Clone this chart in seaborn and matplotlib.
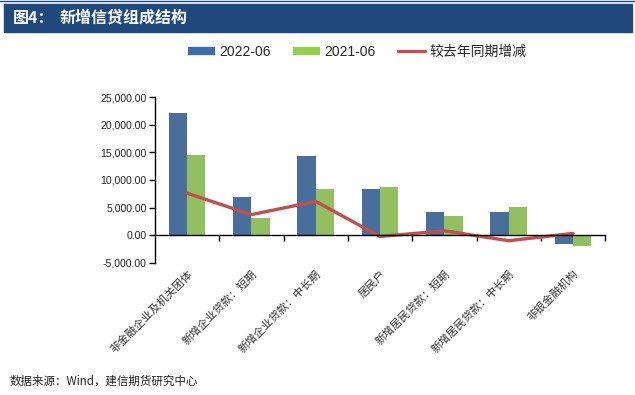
import numpy as np
import pandas as pd
import matplotlib
matplotlib.use("Agg")
import matplotlib.pyplot as plt
from matplotlib.lines import Line2D
from matplotlib.patches import Rectangle
from matplotlib.ticker import FuncFormatter, FixedLocator
import seaborn as sns

# data
categories = ["非金融企业及机关团体", "新增企业贷款：短期", "新增企业贷款：中长期", "居民户",
              "新增居民贷款：短期", "新增居民贷款：中长期", "非银金融机构"]
vals_2022 = [22100, 6850, 14400, 8400, 4230, 4120, -1630]
vals_2021 = [14500, 3140, 8290, 8650, 3450, 5140, -1940]
yoy_change = [7600, 3710, 6110, -250, 780, -1020, 310]
series_names = ["2022-06", "2021-06"]
line_name = "较去年同期增减"

blue = "#3D6CA8"
green = "#92D050"
red = "#C0504D"

sns.set_style("white")
plt.rcParams['font.family'] = ['Liberation Sans', 'Noto Sans CJK SC', 'DejaVu Sans']

df = pd.DataFrame({
    "cat": categories * 2,
    "val": vals_2022 + vals_2021,
    "series": [series_names[0]] * len(categories) + [series_names[1]] * len(categories),
})

fig = plt.figure(figsize=(6.35, 3.95), dpi=100)
ax = fig.add_axes([0.244, 0.335, 0.709, 0.419])

sns.barplot(data=df, x="cat", y="val", hue="series", palette=[blue, green],
            width=0.57, gap=0, linewidth=0, ax=ax, legend=False)
sns.lineplot(x=categories, y=yoy_change, color=red, linewidth=2.4, ax=ax,
             sort=False, legend=False)

ax.set_xlim(-0.5, len(categories) - 0.5)
ax.set_ylim(-5000, 25000)
ax.set_yticks(np.arange(-5000, 25001, 5000))
ax.yaxis.set_major_formatter(FuncFormatter(lambda v, p: f"{v:,.2f}"))
ax.set_xlabel("")
ax.set_ylabel("")

for s in ["top", "right"]:
    ax.spines[s].set_visible(False)
ax.spines["left"].set_color("black")
ax.spines["left"].set_linewidth(1.0)
ax.spines["bottom"].set_position(("data", 0))
ax.spines["bottom"].set_color("black")
ax.spines["bottom"].set_linewidth(1.0)

ax.tick_params(axis="y", direction="out", length=4, width=1, color="black",
               labelsize=7.6, labelcolor="#222222", left=True, pad=2)
ax.xaxis.set_minor_locator(FixedLocator(np.arange(0.5, len(categories), 1)))
ax.tick_params(axis="x", which="minor", direction="out", length=4, width=1, color="black", bottom=True)
ax.tick_params(axis="x", which="major", length=0, pad=24, labelsize=8, labelcolor="#333333")
for lab in ax.get_xticklabels():
    lab.set_rotation(45)
    lab.set_ha("right")
    lab.set_va("top")
    lab.set_rotation_mode("anchor")
    lab.set_family(["Noto Sans CJK SC", "DejaVu Sans"])

# legend
handles = [Line2D([], [], color=blue, lw=6, solid_capstyle="butt"),
           Line2D([], [], color=green, lw=6, solid_capstyle="butt"),
           Line2D([], [], color=red, lw=2.4)]
fig.legend(handles, series_names + [line_name], loc="center", bbox_to_anchor=(0.563, 0.868),
           ncol=3, frameon=False, fontsize=10, handlelength=1.9, columnspacing=1.6,
           handletextpad=0.35)

# title bar
fig.patches.append(Rectangle((4 / 635, 1 - 32 / 395), 628 / 635, 28 / 395,
                             transform=fig.transFigure, color="#1F497D", zorder=0))
fig.lines.append(Line2D([0, 1], [1 - 1 / 395, 1 - 1 / 395], transform=fig.transFigure,
                        color="#1F497D", lw=1))
fig.text(13 / 635, 1 - 18 / 395, "图4：", color="white", fontsize=11.5, fontweight="bold",
         va="center", family=["Noto Sans CJK SC", "DejaVu Sans"])
fig.text(60 / 635, 1 - 18 / 395, "新增信贷组成结构", color="white", fontsize=11.5,
         fontweight="bold", va="center", family=["Noto Sans CJK SC", "DejaVu Sans"])

fig.text(10 / 635, 1 - 381 / 395, "数据来源：Wind，建信期货研究中心", color="#222222",
         fontsize=8.3, style="italic", va="center",
         family=["Noto Sans CJK SC", "DejaVu Sans"])

fig.savefig("out.png", dpi=100)
